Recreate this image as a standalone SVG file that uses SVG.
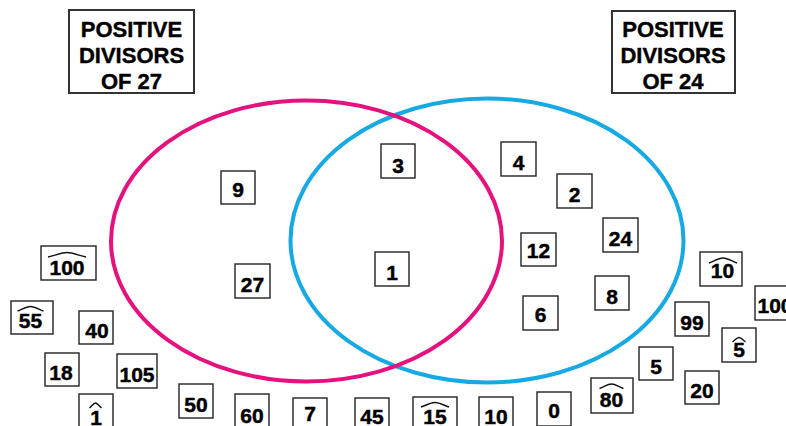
<svg xmlns="http://www.w3.org/2000/svg" width="786" height="426" viewBox="0 0 786 426">
<style>
.bx{fill:#fff;stroke:#222;stroke-width:1.4}
.tb{fill:#fff;stroke:#333;stroke-width:2}
.n{font-family:"Liberation Sans",Arial,sans-serif;font-weight:bold;font-size:21px;fill:#000;stroke:#000;stroke-width:0.45;text-anchor:middle}
.t{font-family:"Liberation Sans",Arial,sans-serif;font-weight:bold;font-size:22px;fill:#000;stroke:#000;stroke-width:0.4;text-anchor:middle}
.h{fill:none;stroke:#111;stroke-width:1.4}
</style>
<rect width="786" height="426" fill="#fff"/>
<g id="connectors">
<ellipse id="set24" cx="487" cy="240.5" rx="196.5" ry="142" fill="none" stroke="#17a9e3" stroke-width="4"/>
<ellipse id="set27" cx="306.5" cy="241" rx="195.5" ry="140.5" fill="none" stroke="#e5127e" stroke-width="4"/>
</g>
<g id="title27"><rect class="tb" x="69" y="10" width="125" height="83"/><text class="t" x="131.5" y="37">POSITIVE</text><text class="t" x="131.5" y="63">DIVISORS</text><text class="t" x="131.5" y="89">OF 27</text></g>
<g id="title24"><rect class="tb" x="612" y="11" width="123" height="82"/><text class="t" x="673" y="37">POSITIVE</text><text class="t" x="673" y="63">DIVISORS</text><text class="t" x="673" y="89">OF 24</text></g>
<g id="n9"><rect class="bx" x="221" y="171" width="34" height="33"/><text class="n" x="238" y="197">9</text></g>
<g id="n27"><rect class="bx" x="235" y="264" width="35" height="34"/><text class="n" x="252.5" y="292">27</text></g>
<g id="n3"><rect class="bx" x="381" y="144" width="34" height="34"/><text class="n" x="398" y="173">3</text></g>
<g id="n1"><rect class="bx" x="375" y="252" width="34" height="34"/><text class="n" x="392" y="280">1</text></g>
<g id="n4"><rect class="bx" x="501" y="142" width="35" height="34"/><text class="n" x="518.5" y="170">4</text></g>
<g id="n2"><rect class="bx" x="557" y="174" width="35" height="34"/><text class="n" x="574.5" y="202">2</text></g>
<g id="n12"><rect class="bx" x="521" y="233" width="35" height="33"/><text class="n" x="538.5" y="258">12</text></g>
<g id="n24"><rect class="bx" x="603" y="218" width="35" height="34"/><text class="n" x="620.5" y="246">24</text></g>
<g id="n8"><rect class="bx" x="595" y="276" width="34" height="34"/><text class="n" x="612" y="304">8</text></g>
<g id="n6"><rect class="bx" x="523" y="296" width="35" height="34"/><text class="n" x="540.5" y="322">6</text></g>
<g id="h100"><rect class="bx" x="41" y="246" width="55" height="34"/><text class="n" x="67" y="275">100</text><path class="h" d="M48,257 C55,255.5 62,252.5 67,252.5 C72,252.5 79,255.5 86,257"/></g>
<g id="h55"><rect class="bx" x="11" y="301" width="42" height="33"/><text class="n" x="30.5" y="328">55</text><path class="h" d="M17.5,311 C22,309.5 26,306.5 30.5,306.5 C35,306.5 39,309.5 43.5,311"/></g>
<g id="n40"><rect class="bx" x="79" y="311" width="34" height="33"/><text class="n" x="97" y="338">40</text></g>
<g id="n18"><rect class="bx" x="45" y="353" width="34" height="33"/><text class="n" x="61" y="380">18</text></g>
<g id="n105"><rect class="bx" x="117" y="354" width="40" height="34"/><text class="n" x="137" y="382">105</text></g>
<g id="h1"><rect class="bx" x="79" y="394" width="34" height="34"/><text class="n" x="96" y="425">1</text><path class="h" d="M89.5,408 C91.5,406.5 93.5,403 95.5,403 C97.5,403 99.5,406.5 101.5,408"/></g>
<g id="n50"><rect class="bx" x="179" y="384" width="34" height="34"/><text class="n" x="196" y="412">50</text></g>
<g id="n60"><rect class="bx" x="235" y="394" width="34" height="34"/><text class="n" x="252" y="423">60</text></g>
<g id="n7"><rect class="bx" x="293" y="398" width="34" height="34"/><text class="n" x="310" y="421">7</text></g>
<g id="n45"><rect class="bx" x="355" y="398" width="34" height="34"/><text class="n" x="372" y="424">45</text></g>
<g id="h15"><rect class="bx" x="413" y="397" width="44" height="34"/><text class="n" x="435" y="424">15</text><path class="h" d="M421,407 C426,405.5 430,402.5 435,402.5 C440,402.5 444,405.5 449,407"/></g>
<g id="n10"><rect class="bx" x="479" y="397" width="34" height="34"/><text class="n" x="496" y="424">10</text></g>
<g id="n0"><rect class="bx" x="537" y="392" width="34" height="34"/><text class="n" x="554" y="418">0</text></g>
<g id="h80"><rect class="bx" x="591" y="378" width="42" height="35"/><text class="n" x="611.5" y="407">80</text><path class="h" d="M599.5,388.5 C604,387 607.5,384 611.5,384 C615.5,384 619,387 623.5,388.5"/></g>
<g id="n5"><rect class="bx" x="639" y="347" width="34" height="33"/><text class="n" x="656" y="374">5</text></g>
<g id="n20"><rect class="bx" x="685" y="371" width="34" height="33"/><text class="n" x="702" y="398">20</text></g>
<g id="n99"><rect class="bx" x="675" y="302" width="34" height="34"/><text class="n" x="692" y="330">99</text></g>
<g id="h10"><rect class="bx" x="700" y="252" width="42" height="34"/><text class="n" x="722.5" y="278">10</text><path class="h" d="M709,263 C714,261.5 718,258 723,258 C728,258 732,261.5 737,263"/></g>
<g id="n100"><rect class="bx" x="755" y="286" width="40" height="34"/><text class="n" x="775" y="313">100</text></g>
<g id="h5"><rect class="bx" x="722" y="328" width="34" height="34"/><text class="n" x="739" y="357">5</text><path class="h" d="M732.5,342 C735,340.5 736.5,337.5 739,337.5 C741.5,337.5 743,340.5 745.5,342"/></g>
</svg>
